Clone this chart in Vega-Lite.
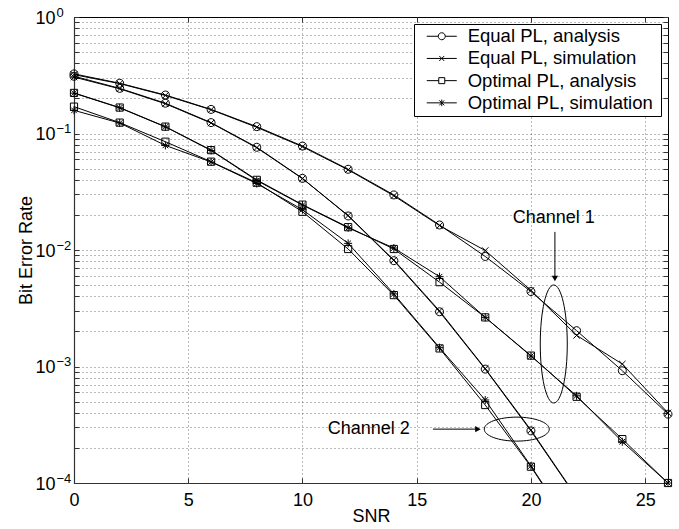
{
  "$schema": "https://vega.github.io/schema/vega-lite/v6.json",
  "width": 594,
  "height": 466,
  "autosize": "none",
  "padding": {"left": 74, "top": 17, "right": 11, "bottom": 46},
  "background": "white",
  "config": {
    "font": "Liberation Sans",
    "view": {"stroke": "black", "strokeWidth": 1},
    "axis": {
      "labelFont": "Liberation Sans", "labelFontSize": 18, "labelColor": "black",
      "titleFont": "Liberation Sans", "titleFontSize": 18, "titleFontWeight": "normal", "titleColor": "black",
      "domainColor": "#333", "domainWidth": 1.2, "tickColor": "#333", "tickSize": -5, "tickWidth": 1,
      "gridColor": "black", "gridDash": [1, 3], "gridOpacity": 0.55, "gridWidth": 1,
      "labelFlush": false, "labelOverlap": false
    }
  },
  "datasets": {
    "main": [
      {"snr": 0, "ber": 0.325, "curve": "Equal PL, analysis", "ch": 1},
      {"snr": 2, "ber": 0.27, "curve": "Equal PL, analysis", "ch": 1},
      {"snr": 4, "ber": 0.214, "curve": "Equal PL, analysis", "ch": 1},
      {"snr": 6, "ber": 0.161, "curve": "Equal PL, analysis", "ch": 1},
      {"snr": 8, "ber": 0.1145, "curve": "Equal PL, analysis", "ch": 1},
      {"snr": 10, "ber": 0.078, "curve": "Equal PL, analysis", "ch": 1},
      {"snr": 12, "ber": 0.0493, "curve": "Equal PL, analysis", "ch": 1},
      {"snr": 14, "ber": 0.0297, "curve": "Equal PL, analysis", "ch": 1},
      {"snr": 16, "ber": 0.0164, "curve": "Equal PL, analysis", "ch": 1},
      {"snr": 18, "ber": 0.0088, "curve": "Equal PL, analysis", "ch": 1},
      {"snr": 20, "ber": 0.0044, "curve": "Equal PL, analysis", "ch": 1},
      {"snr": 22, "ber": 0.00203, "curve": "Equal PL, analysis", "ch": 1},
      {"snr": 24, "ber": 0.00092, "curve": "Equal PL, analysis", "ch": 1},
      {"snr": 26, "ber": 0.00039, "curve": "Equal PL, analysis", "ch": 1},

      {"snr": 0, "ber": 0.32, "curve": "Equal PL, simulation", "ch": 1},
      {"snr": 2, "ber": 0.268, "curve": "Equal PL, simulation", "ch": 1},
      {"snr": 4, "ber": 0.212, "curve": "Equal PL, simulation", "ch": 1},
      {"snr": 6, "ber": 0.16, "curve": "Equal PL, simulation", "ch": 1},
      {"snr": 8, "ber": 0.113, "curve": "Equal PL, simulation", "ch": 1},
      {"snr": 10, "ber": 0.077, "curve": "Equal PL, simulation", "ch": 1},
      {"snr": 12, "ber": 0.0488, "curve": "Equal PL, simulation", "ch": 1},
      {"snr": 14, "ber": 0.0292, "curve": "Equal PL, simulation", "ch": 1},
      {"snr": 16, "ber": 0.0162, "curve": "Equal PL, simulation", "ch": 1},
      {"snr": 18, "ber": 0.0099, "curve": "Equal PL, simulation", "ch": 1},
      {"snr": 20, "ber": 0.0045, "curve": "Equal PL, simulation", "ch": 1},
      {"snr": 22, "ber": 0.00185, "curve": "Equal PL, simulation", "ch": 1},
      {"snr": 24, "ber": 0.00105, "curve": "Equal PL, simulation", "ch": 1},
      {"snr": 26, "ber": 0.0004, "curve": "Equal PL, simulation", "ch": 1},

      {"snr": 0, "ber": 0.223, "curve": "Optimal PL, analysis", "ch": 1},
      {"snr": 2, "ber": 0.167, "curve": "Optimal PL, analysis", "ch": 1},
      {"snr": 4, "ber": 0.1145, "curve": "Optimal PL, analysis", "ch": 1},
      {"snr": 6, "ber": 0.072, "curve": "Optimal PL, analysis", "ch": 1},
      {"snr": 8, "ber": 0.04, "curve": "Optimal PL, analysis", "ch": 1},
      {"snr": 10, "ber": 0.0245, "curve": "Optimal PL, analysis", "ch": 1},
      {"snr": 12, "ber": 0.0157, "curve": "Optimal PL, analysis", "ch": 1},
      {"snr": 14, "ber": 0.0102, "curve": "Optimal PL, analysis", "ch": 1},
      {"snr": 16, "ber": 0.0053, "curve": "Optimal PL, analysis", "ch": 1},
      {"snr": 18, "ber": 0.00264, "curve": "Optimal PL, analysis", "ch": 1},
      {"snr": 20, "ber": 0.00124, "curve": "Optimal PL, analysis", "ch": 1},
      {"snr": 22, "ber": 0.00055, "curve": "Optimal PL, analysis", "ch": 1},
      {"snr": 24, "ber": 0.000238, "curve": "Optimal PL, analysis", "ch": 1},
      {"snr": 26, "ber": 0.0001, "curve": "Optimal PL, analysis", "ch": 1},

      {"snr": 0, "ber": 0.222, "curve": "Optimal PL, simulation", "ch": 1},
      {"snr": 2, "ber": 0.166, "curve": "Optimal PL, simulation", "ch": 1},
      {"snr": 4, "ber": 0.114, "curve": "Optimal PL, simulation", "ch": 1},
      {"snr": 6, "ber": 0.0715, "curve": "Optimal PL, simulation", "ch": 1},
      {"snr": 8, "ber": 0.0395, "curve": "Optimal PL, simulation", "ch": 1},
      {"snr": 10, "ber": 0.0243, "curve": "Optimal PL, simulation", "ch": 1},
      {"snr": 12, "ber": 0.0155, "curve": "Optimal PL, simulation", "ch": 1},
      {"snr": 14, "ber": 0.0104, "curve": "Optimal PL, simulation", "ch": 1},
      {"snr": 16, "ber": 0.0059, "curve": "Optimal PL, simulation", "ch": 1},
      {"snr": 18, "ber": 0.00264, "curve": "Optimal PL, simulation", "ch": 1},
      {"snr": 20, "ber": 0.00123, "curve": "Optimal PL, simulation", "ch": 1},
      {"snr": 22, "ber": 0.00056, "curve": "Optimal PL, simulation", "ch": 1},
      {"snr": 24, "ber": 0.000226, "curve": "Optimal PL, simulation", "ch": 1},
      {"snr": 26, "ber": 0.0001, "curve": "Optimal PL, simulation", "ch": 1},

      {"snr": 0, "ber": 0.31, "curve": "Equal PL, analysis", "ch": 2},
      {"snr": 2, "ber": 0.244, "curve": "Equal PL, analysis", "ch": 2},
      {"snr": 4, "ber": 0.182, "curve": "Equal PL, analysis", "ch": 2},
      {"snr": 6, "ber": 0.124, "curve": "Equal PL, analysis", "ch": 2},
      {"snr": 8, "ber": 0.0762, "curve": "Equal PL, analysis", "ch": 2},
      {"snr": 10, "ber": 0.0412, "curve": "Equal PL, analysis", "ch": 2},
      {"snr": 12, "ber": 0.0196, "curve": "Equal PL, analysis", "ch": 2},
      {"snr": 14, "ber": 0.0081, "curve": "Equal PL, analysis", "ch": 2},
      {"snr": 16, "ber": 0.00295, "curve": "Equal PL, analysis", "ch": 2},
      {"snr": 18, "ber": 0.00095, "curve": "Equal PL, analysis", "ch": 2},
      {"snr": 20, "ber": 0.00028, "curve": "Equal PL, analysis", "ch": 2},
      {"snr": 22, "ber": 0.000075, "curve": "Equal PL, analysis", "ch": 2},

      {"snr": 0, "ber": 0.305, "curve": "Equal PL, simulation", "ch": 2},
      {"snr": 2, "ber": 0.242, "curve": "Equal PL, simulation", "ch": 2},
      {"snr": 4, "ber": 0.18, "curve": "Equal PL, simulation", "ch": 2},
      {"snr": 6, "ber": 0.123, "curve": "Equal PL, simulation", "ch": 2},
      {"snr": 8, "ber": 0.0755, "curve": "Equal PL, simulation", "ch": 2},
      {"snr": 10, "ber": 0.041, "curve": "Equal PL, simulation", "ch": 2},
      {"snr": 12, "ber": 0.0198, "curve": "Equal PL, simulation", "ch": 2},
      {"snr": 14, "ber": 0.0082, "curve": "Equal PL, simulation", "ch": 2},
      {"snr": 16, "ber": 0.003, "curve": "Equal PL, simulation", "ch": 2},
      {"snr": 18, "ber": 0.00096, "curve": "Equal PL, simulation", "ch": 2},
      {"snr": 20, "ber": 0.000285, "curve": "Equal PL, simulation", "ch": 2},
      {"snr": 22, "ber": 0.000076, "curve": "Equal PL, simulation", "ch": 2},

      {"snr": 0, "ber": 0.17, "curve": "Optimal PL, analysis", "ch": 2},
      {"snr": 2, "ber": 0.124, "curve": "Optimal PL, analysis", "ch": 2},
      {"snr": 4, "ber": 0.085, "curve": "Optimal PL, analysis", "ch": 2},
      {"snr": 6, "ber": 0.0573, "curve": "Optimal PL, analysis", "ch": 2},
      {"snr": 8, "ber": 0.0378, "curve": "Optimal PL, analysis", "ch": 2},
      {"snr": 10, "ber": 0.0213, "curve": "Optimal PL, analysis", "ch": 2},
      {"snr": 12, "ber": 0.0102, "curve": "Optimal PL, analysis", "ch": 2},
      {"snr": 14, "ber": 0.0041, "curve": "Optimal PL, analysis", "ch": 2},
      {"snr": 16, "ber": 0.00143, "curve": "Optimal PL, analysis", "ch": 2},
      {"snr": 18, "ber": 0.000467, "curve": "Optimal PL, analysis", "ch": 2},
      {"snr": 20, "ber": 0.000138, "curve": "Optimal PL, analysis", "ch": 2},
      {"snr": 22, "ber": 0.000035, "curve": "Optimal PL, analysis", "ch": 2},

      {"snr": 0, "ber": 0.158, "curve": "Optimal PL, simulation", "ch": 2},
      {"snr": 2, "ber": 0.123, "curve": "Optimal PL, simulation", "ch": 2},
      {"snr": 4, "ber": 0.079, "curve": "Optimal PL, simulation", "ch": 2},
      {"snr": 6, "ber": 0.057, "curve": "Optimal PL, simulation", "ch": 2},
      {"snr": 8, "ber": 0.0372, "curve": "Optimal PL, simulation", "ch": 2},
      {"snr": 10, "ber": 0.0222, "curve": "Optimal PL, simulation", "ch": 2},
      {"snr": 12, "ber": 0.0114, "curve": "Optimal PL, simulation", "ch": 2},
      {"snr": 14, "ber": 0.0042, "curve": "Optimal PL, simulation", "ch": 2},
      {"snr": 16, "ber": 0.00145, "curve": "Optimal PL, simulation", "ch": 2},
      {"snr": 18, "ber": 0.000516, "curve": "Optimal PL, simulation", "ch": 2},
      {"snr": 20, "ber": 0.00014, "curve": "Optimal PL, simulation", "ch": 2},
      {"snr": 22, "ber": 0.000036, "curve": "Optimal PL, simulation", "ch": 2}
    ]
  },
  "layer": [
    {
      "data": {"name": "main"},
      "mark": {"type": "line", "color": "black", "strokeWidth": 1, "clip": true},
      "encoding": {
        "x": {"field": "snr", "type": "quantitative", "scale": {"domain": [0, 26], "nice": false},
          "axis": {"orient": "bottom", "values": [0, 5, 10, 15, 20, 25], "title": "SNR", "grid": true, "labelPadding": 13, "titlePadding": -2}},
        "y": {"field": "ber", "type": "quantitative", "scale": {"type": "log", "domain": [0.0001, 1], "nice": false},
          "axis": {"orient": "left", "title": "Bit Error Rate", "grid": true, "labelPadding": 24, "labelOffset": 1, "titlePadding": -1,
            "values": [0.0001,0.0002,0.0003,0.0004,0.0005,0.0006,0.0007,0.0008,0.0009,0.001,0.002,0.003,0.004,0.005,0.006,0.007,0.008,0.009,0.01,0.02,0.03,0.04,0.05,0.06,0.07,0.08,0.09,0.1,0.2,0.3,0.4,0.5,0.6,0.7,0.8,0.9,1],
            "labelExpr": "(datum.value == 1 || datum.value == 0.1 || datum.value == 0.01 || datum.value == 0.001 || datum.value == 0.0001) ? '10' : ''"}},
        "detail": [{"field": "curve"}, {"field": "ch"}],
        "order": {"field": "snr", "type": "quantitative"}
      }
    },
    {
      "data": {"name": "main"},
      "transform": [{"filter": "datum.ber >= 0.0001"}],
      "mark": {"type": "point", "filled": false, "stroke": "black", "strokeWidth": 1, "size": 64, "opacity": 1},
      "encoding": {
        "x": {"field": "snr", "type": "quantitative", "scale": {"domain": [0, 26], "nice": false}, "axis": null},
        "y": {"field": "ber", "type": "quantitative", "scale": {"type": "log", "domain": [0.0001, 1], "nice": false},
          "axis": {"orient": "left", "title": null, "grid": false, "domain": false, "ticks": false, "labelFontSize": 13, "labelAlign": "left", "labelPadding": 18, "labelOffset": -5,
            "values": [0.0001, 0.001, 0.01, 0.1, 1],
            "labelExpr": "datum.value == 1 ? '0' : datum.value == 0.1 ? '−1' : datum.value == 0.01 ? '−2' : datum.value == 0.001 ? '−3' : '−4'"}},
        "shape": {"field": "curve", "type": "nominal", "legend": null,
          "scale": {"domain": ["Equal PL, analysis", "Equal PL, simulation", "Optimal PL, analysis", "Optimal PL, simulation"],
            "range": ["M-1,0A1,1,0,1,1,1,0A1,1,0,1,1,-1,0", "M-0.8,-0.8L0.8,0.8M-0.8,0.8L0.8,-0.8", "M-0.9,-0.9H0.9V0.9H-0.9Z", "M-1,0H1M0,-1V1M-0.7,-0.7L0.7,0.7M-0.7,0.7L0.7,-0.7"]}}
      }
    },
    {
      "data": {"name": "main"},
      "mark": {"type": "point", "filled": false, "stroke": "black", "strokeWidth": 1, "size": 0},
      "encoding": {
        "x": {"field": "snr", "type": "quantitative", "scale": {"domain": [0, 26], "nice": false},
          "axis": {"orient": "top", "values": [0, 5, 10, 15, 20, 25], "labels": false, "title": null, "grid": false, "domain": false}},
        "y": {"field": "ber", "type": "quantitative", "scale": {"type": "log", "domain": [0.0001, 1], "nice": false},
          "axis": {"orient": "right", "labels": false, "title": null, "grid": false, "domain": false,
            "values": [0.0001,0.0002,0.0003,0.0004,0.0005,0.0006,0.0007,0.0008,0.0009,0.001,0.002,0.003,0.004,0.005,0.006,0.007,0.008,0.009,0.01,0.02,0.03,0.04,0.05,0.06,0.07,0.08,0.09,0.1,0.2,0.3,0.4,0.5,0.6,0.7,0.8,0.9,1]}},
        "shape": {"field": "curve", "type": "nominal",
          "scale": {"domain": ["Equal PL, analysis", "Equal PL, simulation", "Optimal PL, analysis", "Optimal PL, simulation"],
            "range": ["M-3,0H-0.7M0.7,0H3M-0.7,0A0.7,0.7,0,1,1,0.7,0A0.7,0.7,0,1,1,-0.7,0", "M-3,0H3M-0.5,-0.5L0.5,0.5M-0.5,0.5L0.5,-0.5", "M-3,0H-0.6M0.6,0H3M-0.6,-0.6H0.6V0.6H-0.6Z", "M-3,0H3M0,-0.65V0.65M-0.5,-0.5L0.5,0.5M-0.5,0.5L0.5,-0.5"]},
          "legend": {"orient": "top-right", "offset": 7, "title": null, "padding": 3, "strokeColor": "black", "fillColor": "white",
            "labelFont": "Liberation Sans", "labelFontSize": 18.5, "labelColor": "black", "labelOffset": 16.7, "rowPadding": 3.2, "labelLimit": 0,
            "labelExpr": "datum.label + ' \u034F'", "symbolOffset": 15.5,
            "symbolSize": 100, "symbolStrokeWidth": 1, "symbolStrokeColor": "black", "symbolFillColor": "transparent", "symbolOpacity": 1, "cornerRadius": 0}}
      }
    },
    {
      "data": {"values": [{"snr": 21.0, "ber": 0.019, "label": "Channel 1"}, {"snr": 12.9, "ber": 0.00029, "label": "Channel 2"}]},
      "mark": {"type": "text", "font": "Liberation Sans", "fontSize": 18, "color": "black", "align": "center", "baseline": "middle"},
      "encoding": {
        "x": {"field": "snr", "type": "quantitative", "scale": {"domain": [0, 26], "nice": false}, "axis": null},
        "y": {"field": "ber", "type": "quantitative", "scale": {"type": "log", "domain": [0.0001, 1], "nice": false}, "axis": null},
        "text": {"field": "label"}
      }
    },
    {
      "data": {"values": [{"snr": 21.05, "ber": 0.0143, "snr2": 21.05, "ber2": 0.0058}, {"snr": 15.71, "ber": 0.00029, "snr2": 17.6, "ber2": 0.00029}]},
      "mark": {"type": "rule", "color": "black", "strokeWidth": 1},
      "encoding": {
        "x": {"field": "snr", "type": "quantitative", "scale": {"domain": [0, 26], "nice": false}, "axis": null},
        "y": {"field": "ber", "type": "quantitative", "scale": {"type": "log", "domain": [0.0001, 1], "nice": false}, "axis": null},
        "x2": {"field": "snr2"},
        "y2": {"field": "ber2"}
      }
    },
    {
      "data": {"values": [{"snr": 21.05, "ber": 0.0057}]},
      "mark": {"type": "point", "shape": "triangle-down", "filled": true, "color": "black", "size": 40, "opacity": 1},
      "encoding": {
        "x": {"field": "snr", "type": "quantitative", "scale": {"domain": [0, 26], "nice": false}, "axis": null},
        "y": {"field": "ber", "type": "quantitative", "scale": {"type": "log", "domain": [0.0001, 1], "nice": false}, "axis": null}
      }
    },
    {
      "data": {"values": [{"snr": 17.68, "ber": 0.00029}]},
      "mark": {"type": "point", "shape": "triangle-right", "filled": true, "color": "black", "size": 40, "opacity": 1},
      "encoding": {
        "x": {"field": "snr", "type": "quantitative", "scale": {"domain": [0, 26], "nice": false}, "axis": null},
        "y": {"field": "ber", "type": "quantitative", "scale": {"type": "log", "domain": [0.0001, 1], "nice": false}, "axis": null}
      }
    },
    {
      "data": {"values": [{"snr": 21.0, "ber": 0.00156}]},
      "mark": {"type": "point", "shape": "M0,-1A0.229,1,0,1,1,0,1A0.229,1,0,1,1,0,-1", "filled": false, "stroke": "black", "strokeWidth": 1, "size": 13924, "opacity": 1},
      "encoding": {
        "x": {"field": "snr", "type": "quantitative", "scale": {"domain": [0, 26], "nice": false}, "axis": null},
        "y": {"field": "ber", "type": "quantitative", "scale": {"type": "log", "domain": [0.0001, 1], "nice": false}, "axis": null}
      }
    },
    {
      "data": {"values": [{"snr": 19.38, "ber": 0.00029}]},
      "mark": {"type": "point", "shape": "M-1,0A1,0.369,0,1,1,1,0A1,0.369,0,1,1,-1,0", "filled": false, "stroke": "black", "strokeWidth": 1, "size": 4225, "opacity": 1},
      "encoding": {
        "x": {"field": "snr", "type": "quantitative", "scale": {"domain": [0, 26], "nice": false}, "axis": null},
        "y": {"field": "ber", "type": "quantitative", "scale": {"type": "log", "domain": [0.0001, 1], "nice": false}, "axis": null}
      }
    }
  ],
  "resolve": {"scale": {"shape": "independent"}, "axis": {"x": "independent", "y": "independent"}, "legend": {"shape": "independent"}}
}
